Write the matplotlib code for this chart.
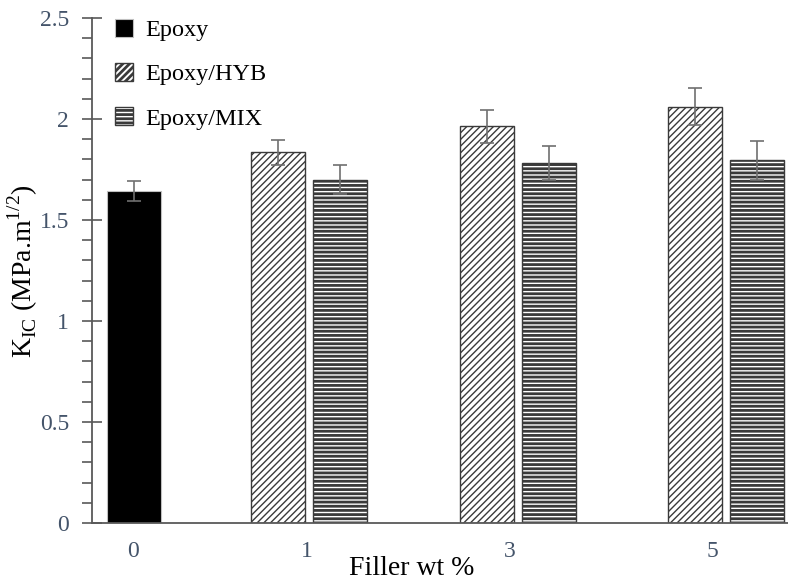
import matplotlib
matplotlib.use("Agg")
import matplotlib.pyplot as plt
import numpy as np

# ---- data ----
categories = ["0", "1", "3", "5"]
series_names = ["Epoxy", "Epoxy/HYB", "Epoxy/MIX"]
epoxy_vals = [1.645]
epoxy_err = [0.05]
hyb_vals = [1.835, 1.964, 2.061]
hyb_err = [0.062, 0.081, 0.09]
mix_vals = [1.700, 1.782, 1.795]
mix_err = [0.07, 0.083, 0.098]

# ---- layout ----
plt.rcParams['font.family'] = ['Liberation Serif', 'DejaVu Serif']
plt.rcParams['hatch.color'] = 'black'
W, H = 788, 582
fig = plt.figure(figsize=(W / 100, H / 100), dpi=100)
ax = fig.add_axes([92 / W, 59 / H, (788 - 92) / W, (523 - 18) / H])

# group centres in pixel units from axis origin
centers = [42, 217, 426, 634]
bw = 54
gap = 8
off = (bw + gap) / 2
tick_col = '#44546a'
err_col = '#6f6f6f'

ax.bar([centers[0]], epoxy_vals, width=bw, color='black', edgecolor='#bfbfbf',
       linewidth=0.8, label=series_names[0])
ax.errorbar([centers[0]], epoxy_vals, yerr=epoxy_err, fmt='none', ecolor=err_col,
            elinewidth=1.2, capsize=5, capthick=1.2)

hx = [c - off for c in centers[1:]]
mx = [c + off for c in centers[1:]]
plt.rcParams['hatch.linewidth'] = 1.0
ax.bar(hx, hyb_vals, width=bw, color='white', edgecolor='#3a3a3a', hatch='/////',
       linewidth=1.0, label=series_names[1])
ax.errorbar(hx, hyb_vals, yerr=hyb_err, fmt='none', ecolor=err_col,
            elinewidth=1.2, capsize=5, capthick=1.2)
plt.rcParams['hatch.linewidth'] = 2.0
bars_mix = ax.bar(mx, mix_vals, width=bw, color='white', edgecolor='#3a3a3a', hatch='----',
                  linewidth=1.0, label=series_names[2])
for b in bars_mix:
    if hasattr(b, 'set_hatch_linewidth'):
        b.set_hatch_linewidth(2.0)
ax.errorbar(mx, mix_vals, yerr=mix_err, fmt='none', ecolor=err_col,
            elinewidth=1.2, capsize=5, capthick=1.2)

ax.set_xlim(0, 696)
ax.set_ylim(0, 2.5)
ax.set_xticks([41, 215, 418, 620])
ax.set_xticklabels(categories)
ax.set_yticks(np.arange(0, 2.51, 0.5))
ax.set_yticklabels(['0', '0.5', '1', '1.5', '2', '2.5'])
ax.set_yticks(np.arange(0, 2.51, 0.1), minor=True)

for s in ['top', 'right']:
    ax.spines[s].set_visible(False)
for s in ['left', 'bottom']:
    ax.spines[s].set_color('#595959')
    ax.spines[s].set_linewidth(1.3)

ax.tick_params(axis='y', which='major', direction='inout', length=14, width=1.2,
               color='#595959', labelsize=17, labelcolor=tick_col, pad=9.5)
ax.tick_params(axis='y', which='minor', direction='out', length=7, width=1.2,
               color='#595959')
ax.tick_params(axis='x', which='major', length=0, labelsize=17, labelcolor=tick_col, pad=13)

ax.set_xlabel('Filler wt %', fontsize=20)
ax.xaxis.set_label_coords(0.46, -0.066)
ax.set_ylabel(r'K$_{\mathregular{IC}}$ (MPa.m$^{\mathregular{1/2}}$)', fontsize=20)
ax.yaxis.set_label_coords(-0.074, 0.498)

leg = ax.legend(loc='upper left', bbox_to_anchor=(0.033, 0.998), frameon=False, fontsize=17.5,
                handlelength=0.74, handleheight=0.74, handletextpad=0.5, labelspacing=0.9,
                borderpad=0, borderaxespad=0)

fig.savefig('out.png', dpi=100)
